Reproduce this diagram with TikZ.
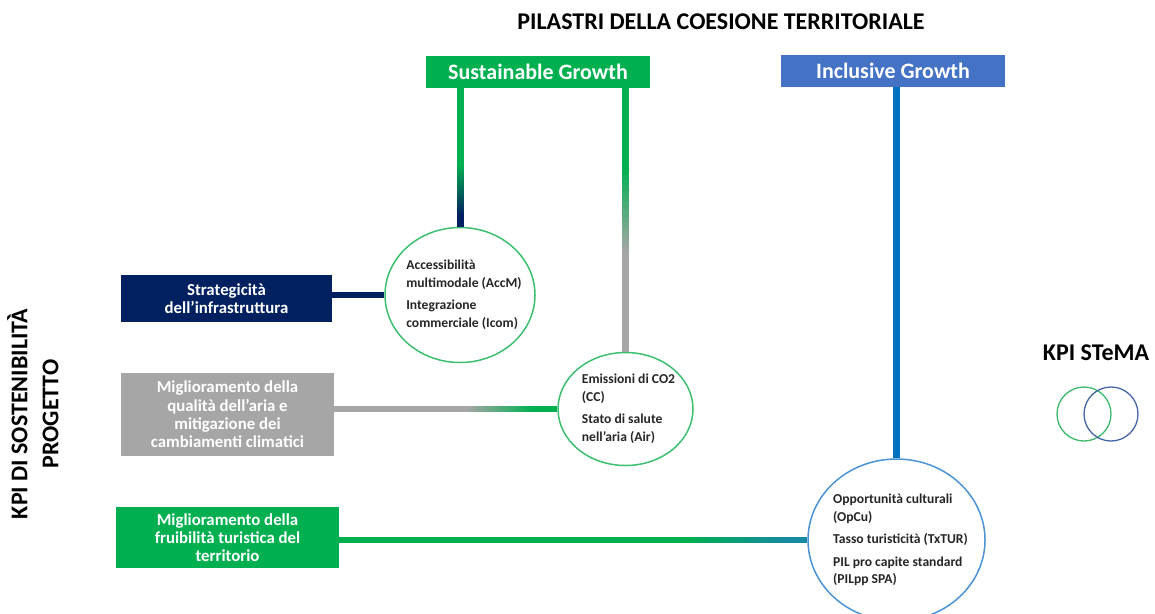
\documentclass[tikz,border=0pt]{standalone}
\usepackage{fontspec}
\setmainfont{Carlito}
\usetikzlibrary{shapes.geometric,calc}
\definecolor{sgreen}{HTML}{00B050}
\definecolor{iblue}{HTML}{4472C4}
\definecolor{bline}{HTML}{0070C0}
\definecolor{navy}{HTML}{002060}
\definecolor{gbox}{HTML}{A6A6A6}
\definecolor{ringg}{HTML}{3CBF70}
\definecolor{ringb}{HTML}{4A94D6}
\definecolor{teal}{HTML}{168A9E}
\definecolor{venng}{HTML}{3CB96A}
\definecolor{vennb}{HTML}{4465A8}
% gradient line: #1 start coord, #2 end coord, #3 start colour, #4 end colour, #5 width
\newcommand\gradline[5]{%
  \foreach \gi in {0,...,39}{%
    \pgfmathsetmacro\gp{100-\gi*2.5}%
    \pgfmathsetmacro\ga{\gi/40}%
    \pgfmathsetmacro\gb{min(1,(\gi+1.3)/40)}%
    \draw[line width=#5, color=#3!\gp!#4] ($(#1)!\ga!(#2)$) -- ($(#1)!\gb!(#2)$);
  }%
}
\begin{document}
\begin{tikzpicture}[x=1pt,y=-1pt,
  pillar/.style={rectangle, inner sep=0pt, minimum width=224pt, minimum height=32pt, text=white, font=\fontsize{22}{24}\selectfont\bfseries},
  kpibox/.style={rectangle, inner sep=0pt, align=center, text=white, font=\fontsize{16.8}{18.3}\selectfont\bfseries},
  ring/.style={ellipse, draw, line width=1.5pt, fill=white, inner sep=0pt},
  ringtext/.style={align=left, inner sep=0pt, font=\fontsize{13.6}{17.5}\selectfont\bfseries, text=black!85},
  conn/.style={line width=#1},
  conn/.default=7pt,
  big/.style={font=\fontsize{24}{31}\selectfont\bfseries, text=black}
]
\useasboundingbox (0,0) rectangle (1155,613);
\clip (0,0) rectangle (1155,613);
\fill[white] (0,0) rectangle (1155,613);

% titles
\node[big] (title) at (721,22) {PILASTRI DELLA COESIONE TERRITORIALE};
\node[big, rotate=90, align=center] (side) at (33,414) {KPI DI SOSTENIBILITÀ\\PROGETTO};
\node[big] (stema) at (1096,353) {KPI STeMA};

% pillars
\node[pillar, fill=sgreen] (sg) at (538,72) {Sustainable Growth};
\node[pillar, fill=iblue] (ig) at (893,71) {Inclusive Growth};

% KPI boxes
\node[kpibox, fill=navy, minimum width=211pt, minimum height=47pt] (kb1) at (226.5,298.5) {Strategicità\\dell’infrastruttura};
\node[kpibox, fill=gbox, minimum width=213pt, minimum height=83pt] (kb2) at (227.5,414.5) {Miglioramento della\\qualità dell’aria e\\mitigazione dei\\cambiamenti climatici};
\node[kpibox, fill=sgreen, minimum width=223pt, minimum height=61pt] (kb3) at (227.5,537.5) {Miglioramento della\\fruibilità turistica del\\territorio};

% rings (shapes only)
\node[ring, draw=ringg, minimum width=150pt, minimum height=135pt] (c1) at (460,295) {};
\node[ring, draw=ringg, minimum width=135pt, minimum height=113pt] (c2) at (625.5,409) {};
\node[ring, draw=ringb, minimum width=177pt, minimum height=162pt] (c3) at (896.5,540) {};

% named points where colours change
\coordinate (p1a) at ($(c1.north)+(0,-62)$);
\coordinate (p1b) at ($(c1.north)+(0,-12)$);
\coordinate (p2a) at ($(c2.north)+(0,-185)$);
\coordinate (p2b) at ($(c2.north)+(0,-100)$);
\coordinate (p3a) at ($(c2.west)+(-91,0)$);
\coordinate (p3b) at ($(c2.west)+(-25,0)$);
\coordinate (p4a) at ($(c3.west)+(-120,0)$);
\coordinate (p4b) at ($(c3.west)+(-25,0)$);

% vertical connectors from Sustainable Growth
\draw[conn, sgreen] (sg.south -| c1.north) -- (p1a);
\gradline{p1a}{p1b}{sgreen}{navy}{7pt}
\draw[conn, navy] (p1b) -- (c1.north);

\draw[conn, sgreen] (sg.south -| c2.north) -- (p2a);
\gradline{p2a}{p2b}{sgreen}{gbox}{7pt}
\draw[conn, gbox] (p2b) -- (c2.north);

% vertical from Inclusive Growth
\draw[conn, bline] (ig.south -| c3.north) -- (c3.north);

% horizontal connectors
\draw[conn=6pt, navy] (kb1.east |- c1.west) -- (c1.west);

\draw[conn=6pt, gbox] (kb2.east |- c2.west) -- (p3a);
\gradline{p3a}{p3b}{gbox}{sgreen}{6pt}
\draw[conn=6pt, sgreen] (p3b) -- (c2.west);

\draw[conn=6pt, sgreen] (kb3.east |- c3.west) -- (p4a);
\gradline{p4a}{p4b}{sgreen}{teal}{6pt}
\draw[conn=6pt, teal] (p4b) -- (c3.west);

% ring texts
\node[ringtext] (t1) at ([xshift=4pt]c1.center) {Accessibilità\\multimodale (AccM)\\[5pt]Integrazione\\commerciale (Icom)};
\node[ringtext] (t2) at ([xshift=3pt]c2.center) {Emissioni di CO2\\(CC)\\[5pt]Stato di salute\\nell’aria (Air)};
\node[ringtext] (t3) at ([xshift=4pt]c3.center) {Opportunità culturali\\(OpCu)\\[5pt]Tasso turisticità (TxTUR)\\[5pt]PIL pro capite standard\\(PILpp SPA)};

% Venn
\node[circle, draw=venng, line width=1.3pt, minimum size=54pt, inner sep=0pt] (v1) at (1084,414) {};
\node[circle, draw=vennb, line width=1.3pt, minimum size=54pt, inner sep=0pt] (v2) at (1111,414) {};
\end{tikzpicture}
\end{document}
